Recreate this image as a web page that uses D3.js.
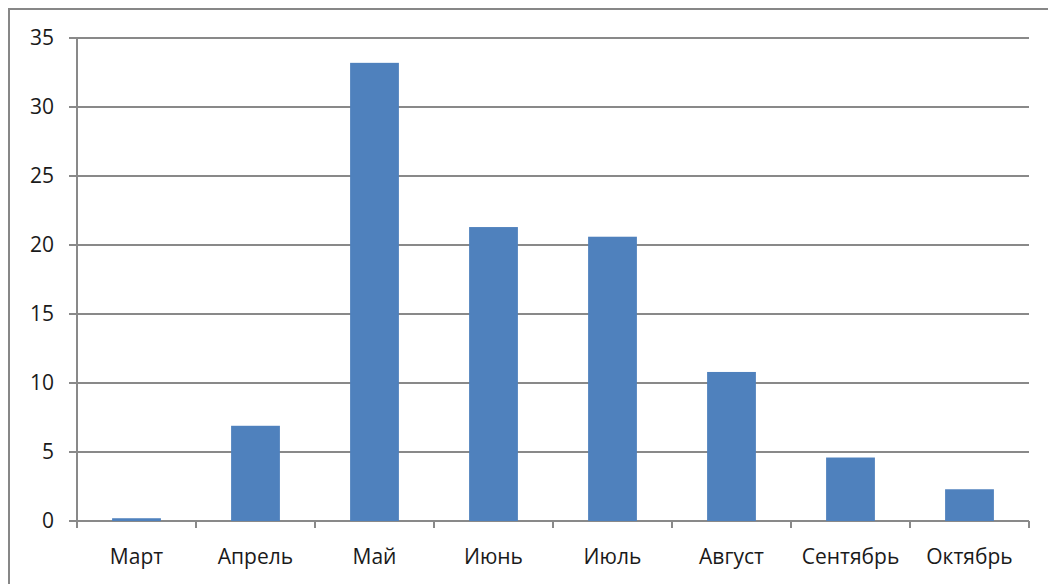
<!DOCTYPE html>
<html>
<head>
<meta charset="utf-8">
<script src="https://cdn.jsdelivr.net/npm/d3@7"></script>
<style>
  html, body { margin: 0; padding: 0; background: #fff; overflow: hidden; }
  text { font-family: "Open Sans", sans-serif; fill: #1a1a1a; }
</style>
</head>
<body>
<div id="chart"></div>
<script>
const months = ["Март", "Апрель", "Май", "Июнь", "Июль", "Август", "Сентябрь", "Октябрь"];
const values = [0.2, 6.9, 33.2, 21.3, 20.6, 10.8, 4.6, 2.3];
const yTicks = [0, 5, 10, 15, 20, 25, 30, 35];

const width = 1048, height = 584;
const plotLeft = 77, plotRight = 1029, plotTop = 38, plotBottom = 521;

const svg = d3.select("#chart").append("svg")
    .attr("width", width)
    .attr("height", height);

// outer frame (cut off at right and bottom like the picture)
svg.append("path")
    .attr("d", "M9,600 L9,9 L1060,9")
    .attr("fill", "none")
    .attr("stroke", "#878787")
    .attr("stroke-width", 2);

var x = d3.scaleBand().domain(months).range([plotLeft, plotRight]).paddingInner(0.59).paddingOuter(0.295);
var xb = d3.scaleBand().domain(months).range([plotLeft, plotRight]);
var y = d3.scaleLinear().domain([0, 35]).range([plotBottom, plotTop]);

// gridlines
svg.selectAll(".grid").data(yTicks).enter()
    .append("line")
    .attr("x1", plotLeft - 8)
    .attr("x2", plotRight)
    .attr("y1", d => y(d))
    .attr("y2", d => y(d))
    .attr("stroke", "#898989")
    .attr("stroke-width", 2);

// y labels
svg.selectAll(".ylab").data(yTicks).enter()
    .append("text")
    .attr("x", 54)
    .attr("y", d => y(d))
    .attr("dy", "0.35em")
    .attr("text-anchor", "end")
    .style("font-size", "21px")
    .text(d => d);

// y axis line
svg.append("line")
    .attr("x1", plotLeft).attr("x2", plotLeft)
    .attr("y1", plotTop).attr("y2", plotBottom + 7)
    .attr("stroke", "#898989")
    .attr("stroke-width", 2);

// x ticks at category boundaries
var bounds = months.map(m => xb(m)).concat([plotRight]);
svg.selectAll(".xtick").data(bounds).enter()
    .append("line")
    .attr("x1", d => d).attr("x2", d => d)
    .attr("y1", plotBottom).attr("y2", plotBottom + 7)
    .attr("stroke", "#898989")
    .attr("stroke-width", 2);

// bars
svg.selectAll("rect.bar").data(values).enter()
    .append("rect")
    .attr("class", "bar")
    .attr("x", (d, i) => x(months[i]))
    .attr("width", x.bandwidth())
    .attr("y", d => y(d))
    .attr("height", d => plotBottom - y(d))
    .attr("fill", "#4f81bd");

// x labels
svg.selectAll(".xlab").data(months).enter()
    .append("text")
    .attr("x", d => xb(d) + xb.bandwidth() / 2)
    .attr("y", 564)
    .attr("text-anchor", "middle")
    .style("font-size", "21px")
    .text(d => d);
</script>
</body>
</html>
